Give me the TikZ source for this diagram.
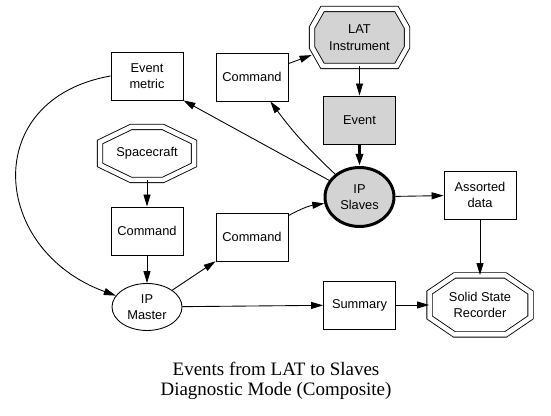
\documentclass[tikz,border=0pt]{standalone}
\usepackage{fontspec}
\setmainfont{Liberation Serif}
\setsansfont{Liberation Sans}
\usetikzlibrary{arrows.meta, shapes.geometric, calc}
\definecolor{boxgray}{RGB}{211,211,211}
% octagon: center, half width, half height, cut x, cut y, extra options
\newcommand{\octagonat}[6]{%
  \draw[octline, #6] ($(#1)+(-#2,#3-#5)$) -- ($(#1)+(-#2+#4,#3)$) -- ($(#1)+(#2-#4,#3)$) -- ($(#1)+(#2,#3-#5)$)
    -- ($(#1)+(#2,-#3+#5)$) -- ($(#1)+(#2-#4,-#3)$) -- ($(#1)+(-#2+#4,-#3)$) -- ($(#1)+(-#2,-#3+#5)$) -- cycle;
}

\begin{document}
\begin{tikzpicture}[
            box/.style={draw, line width=0.5pt, minimum width=1.44cm, minimum height=0.96cm, inner sep=0pt, align=center, font=\sffamily\fontsize{7.3}{9.3}\selectfont},
            octtext/.style={box, draw=none},
            octline/.style={line width=0.5pt, double, double distance=0.09cm},
            oval/.style={box, ellipse, minimum width=1.40cm, minimum height=0.94cm},
            arrow/.style={-{Triangle[length=0.24cm, width=0.14cm]}, line width=0.5pt}
        ]
        \useasboundingbox (0,0) rectangle (11.02,8.32);
        % left column
        \node[box] (metric) at (2.94,6.80) {Event\\metric};
        \octagonat{2.94,5.25}{0.94}{0.53}{0.62}{0.30}{}
        \node[octtext, minimum width=1.88cm, minimum height=1.06cm] (spacecraft) at (2.94,5.25) {Spacecraft};
        \node[box] (cmdlow) at (2.94,3.70) {Command};
        \node[oval] (master) at (2.94,2.18) {IP\\Master};
        % middle column
        \node[box] (cmdtop) at (5.04,6.78) {Command};
        \node[box] (cmdmid) at (5.04,3.58) {Command};
        % LAT column
        \octagonat{7.19,7.57}{0.95}{0.57}{0.21}{0.37}{fill=boxgray}
        \node[octtext, minimum width=1.90cm, minimum height=1.14cm] (lat) at (7.19,7.57) {LAT\\Instrument};
        \node[box, fill=boxgray] (event) at (7.19,5.92) {Event};
        \node[oval, fill=boxgray, line width=1.7pt, minimum width=1.38cm, minimum height=1.18cm] (slaves) at (7.19,4.38) {IP\\Slaves};
        \node[box] (summary) at (7.19,2.22) {Summary};
        % right column
        \node[box] (assorted) at (9.60,4.42) {Assorted\\data};
        \octagonat{9.60,2.22}{1.01}{0.59}{0.50}{0.34}{}
        \node[octtext, minimum width=2.02cm, minimum height=1.18cm] (ssr) at (9.60,2.22) {Solid State\\Recorder};
        % caption
        \node[align=center, font=\fontsize{10.8}{11.4}\selectfont] (caption) at (5.52,0.70) {Events from LAT to Slaves\\Diagnostic Mode (Composite)};

        \draw[arrow] (metric.west) to[out=190, in=160, looseness=1.55] (master);
        \draw[arrow] (slaves) -- (metric.south east);
        \draw[arrow] (slaves) to[bend left=5] (cmdtop);
        \draw[arrow] (cmdtop) -- (lat);
        \draw[arrow] (lat) -- (event);
        \draw[arrow, line width=1.7pt] (event) -- (slaves);
        \draw[arrow] (spacecraft) -- (cmdlow);
        \draw[arrow] (cmdlow) -- (master);
        \draw[arrow] (master) -- (cmdmid);
        \draw[arrow] (cmdmid) to[bend left=10] (slaves);
        \draw[arrow] (slaves) -- (assorted);
        \draw[arrow] (assorted) -- (ssr);
        \draw[arrow] (master) -- (summary);
        \draw[arrow] (summary) -- (ssr);
        \end{tikzpicture}
\end{document}
